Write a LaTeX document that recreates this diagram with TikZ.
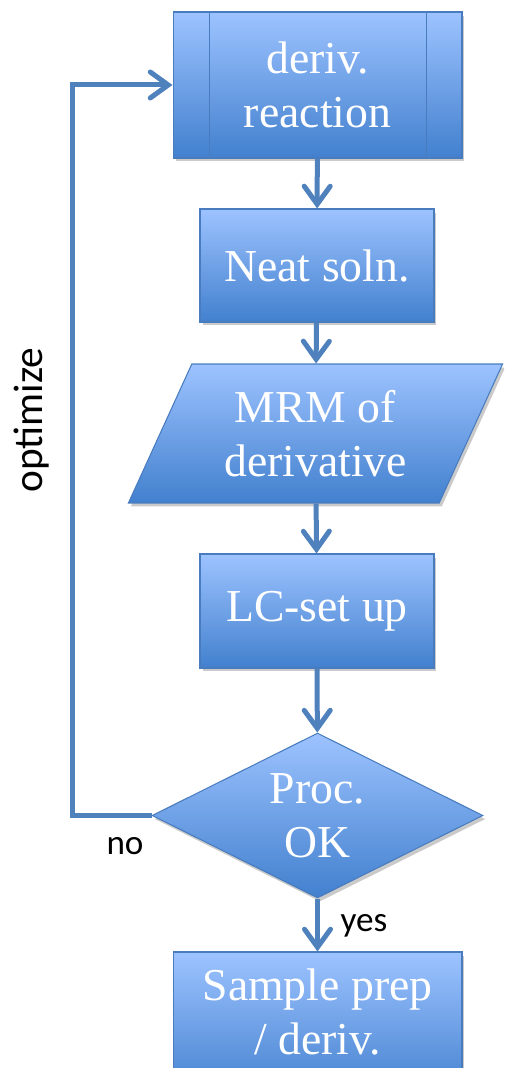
\documentclass[tikz,border=0pt]{standalone}
\usepackage{fontspec}
\setmainfont{Liberation Serif}
\newfontfamily\labelfont{Carlito}
\usetikzlibrary{shapes.geometric,arrows.meta,shadows,positioning,calc}
\definecolor{flowblue}{RGB}{79,129,189}
\definecolor{filltop}{RGB}{157,195,255}
\definecolor{fillbot}{RGB}{66,128,206}
\definecolor{edgeblue}{RGB}{72,124,190}
\tikzset{
  >={Straight Barb[length=0.36cm,width=0.52cm,line cap=round]},
  blockfill/.style={
    draw=edgeblue, line width=0.6pt,
    top color=filltop, bottom color=fillbot,
    drop shadow={shadow xshift=0.05cm, shadow yshift=-0.07cm,
      opacity=0.35, fill=black!60},
    text=white, align=center,
    font=\fontsize{26}{30.7}\selectfont},
  stepbox/.style={blockfill, rectangle, inner sep=0pt},
  iobox/.style={blockfill, trapezium, trapezium left angle=61.6,
    trapezium right angle=118.4, trapezium stretches=true, inner sep=0pt},
  decbox/.style={blockfill, diamond, aspect=2, inner sep=-0.3cm},
  flow/.style={draw=flowblue, line width=0.1cm, ->},
  lbl/.style={font=\labelfont\fontsize{20}{24}\selectfont, text=black},
}
\begin{document}
\begin{tikzpicture}[x=0.02cm,y=-0.02cm]
  \useasboundingbox (0,0) rectangle (504,1068);
  \clip (0,0) rectangle (504,1068);

  % process steps
  \node (deriv) [stepbox, minimum width=5.78cm, minimum height=2.92cm] at (317.5,85) {deriv.\\reaction};
  \draw[edgeblue, line width=0.6pt] ($(deriv.north west)+(37,0)$) -- ($(deriv.south west)+(37,0)$);
  \draw[edgeblue, line width=0.6pt] ($(deriv.north east)+(-36,0)$) -- ($(deriv.south east)+(-36,0)$);

  \node (neat) [stepbox, minimum width=4.68cm, minimum height=2.26cm] at (317,265.5) {Neat soln.};
  \node (mrm) [iobox, minimum width=7.5cm, minimum height=2.78cm] at (315.5,433.5) {MRM of\\derivative};
  \node (lc) [stepbox, minimum width=4.68cm, minimum height=2.28cm] at (317,611) {LC-set up};
  \node (proc) [decbox, minimum width=6.62cm, minimum height=3.3cm] at (317.5,815.5) {Proc.\\OK};
  \node (sample) [stepbox, minimum width=5.78cm, minimum height=2.92cm] at (317.5,1025) {};
  \node (sampletxt) [text=white, align=center, font=\fontsize{26}{30.7}\selectfont] at (317.5,1012) {Sample prep\\/ deriv.};

  % connectors
  \draw[flow] (deriv) -- (neat);
  \draw[flow] (neat) -- (mrm);
  \draw[flow] (mrm) -- (lc);
  \draw[flow] (lc) -- (proc);
  \draw[flow] (proc) -- (sample);
  \draw[flow] (proc.west) -- ++(-79,0) |- (deriv.west);

  \node (opt) [lbl, rotate=90, font=\labelfont\fontsize{23.5}{28}\selectfont] at (32,420) {optimize};
  \node (no) [lbl] at (125,846) {no};
  \node (yes) [lbl] at (364,926) {yes};
\end{tikzpicture}
\end{document}
